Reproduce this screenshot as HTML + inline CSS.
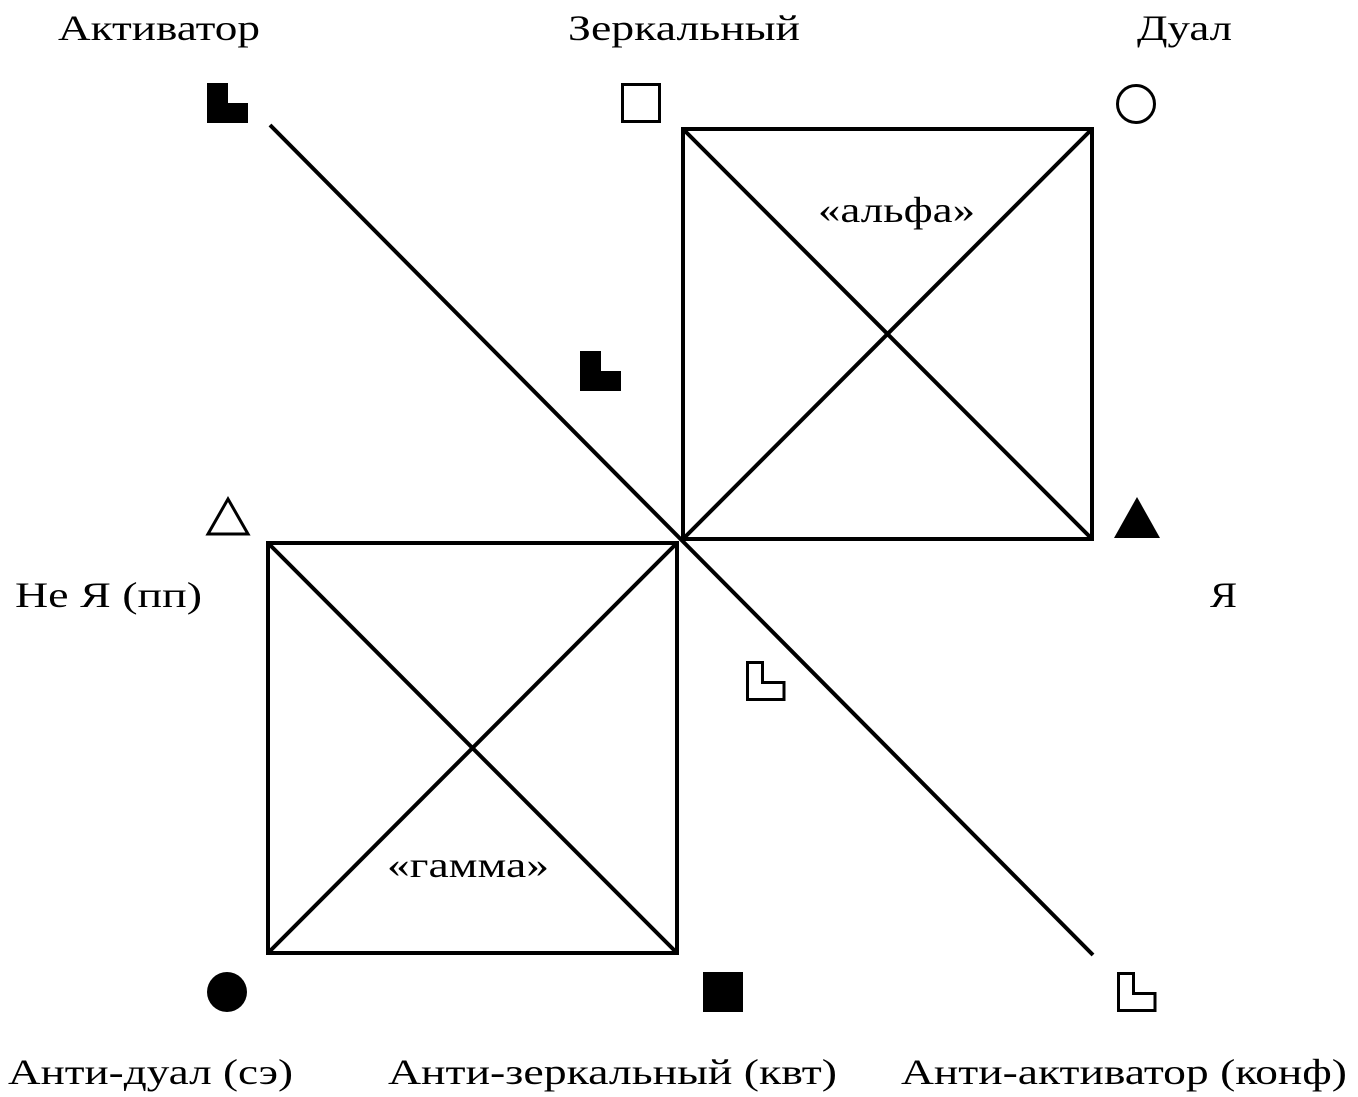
<!DOCTYPE html>
<html><head><meta charset="utf-8"><style>html,body{margin:0;padding:0;background:#fff;}svg{display:block}
text{font-family:"Liberation Serif","Times New Roman",serif;font-size:36px;}</style></head>
<body>
<svg width="1358" height="1097" viewBox="0 0 1358 1097" xmlns="http://www.w3.org/2000/svg">
<g fill="#000">
<text x="58" y="40" textLength="202" lengthAdjust="spacingAndGlyphs">Активатор</text>
<text x="568" y="40" textLength="232" lengthAdjust="spacingAndGlyphs">Зеркальный</text>
<text x="1137" y="40" textLength="95" lengthAdjust="spacingAndGlyphs">Дуал</text>
<text x="818" y="222" textLength="157" lengthAdjust="spacingAndGlyphs">«альфа»</text>
<text x="15" y="607" textLength="187" lengthAdjust="spacingAndGlyphs">Не Я (пп)</text>
<text x="1210" y="607" textLength="27" lengthAdjust="spacingAndGlyphs">Я</text>
<text x="387" y="877" textLength="162" lengthAdjust="spacingAndGlyphs">«гамма»</text>
<text x="8" y="1084" textLength="285" lengthAdjust="spacingAndGlyphs">Анти-дуал (сэ)</text>
<text x="388" y="1084" textLength="449" lengthAdjust="spacingAndGlyphs">Анти-зеркальный (квт)</text>
<text x="901" y="1084" textLength="446" lengthAdjust="spacingAndGlyphs">Анти-активатор (конф)</text>
</g>
<g stroke="#000" stroke-width="4" fill="none">
<rect x="683" y="129" width="409" height="410"/>
<line x1="683" y1="129" x2="1092" y2="539"/>
<line x1="1092" y1="129" x2="683" y2="539"/>
<rect x="268" y="543" width="409" height="410"/>
<line x1="268" y1="543" x2="677" y2="953"/>
<line x1="677" y1="543" x2="268" y2="953"/>
<line x1="270" y1="125" x2="1093" y2="955"/>
</g>
<path d="M207 83h21v20h20v20h-41z" fill="#000"/>
<path d="M580 351h21v20h20v20h-41z" fill="#000"/>
<path d="M747.5 662.5h15v20h21.5v17h-36.5z" fill="none" stroke="#000" stroke-width="3"/>
<path d="M1118.5 973.5h15v20h21.5v17h-36.5z" fill="none" stroke="#000" stroke-width="3"/>
<rect x="622.5" y="84.5" width="37" height="37" fill="none" stroke="#000" stroke-width="3"/>
<circle cx="1136" cy="104" r="18.5" fill="none" stroke="#000" stroke-width="3"/>
<polygon points="228,499 248,534 208,534" fill="none" stroke="#000" stroke-width="3"/>
<polygon points="1137,497 1160,538 1114,538" fill="#000"/>
<circle cx="227" cy="992" r="20" fill="#000"/>
<rect x="703" y="972" width="40" height="40" fill="#000"/>
</svg>
</body></html>
